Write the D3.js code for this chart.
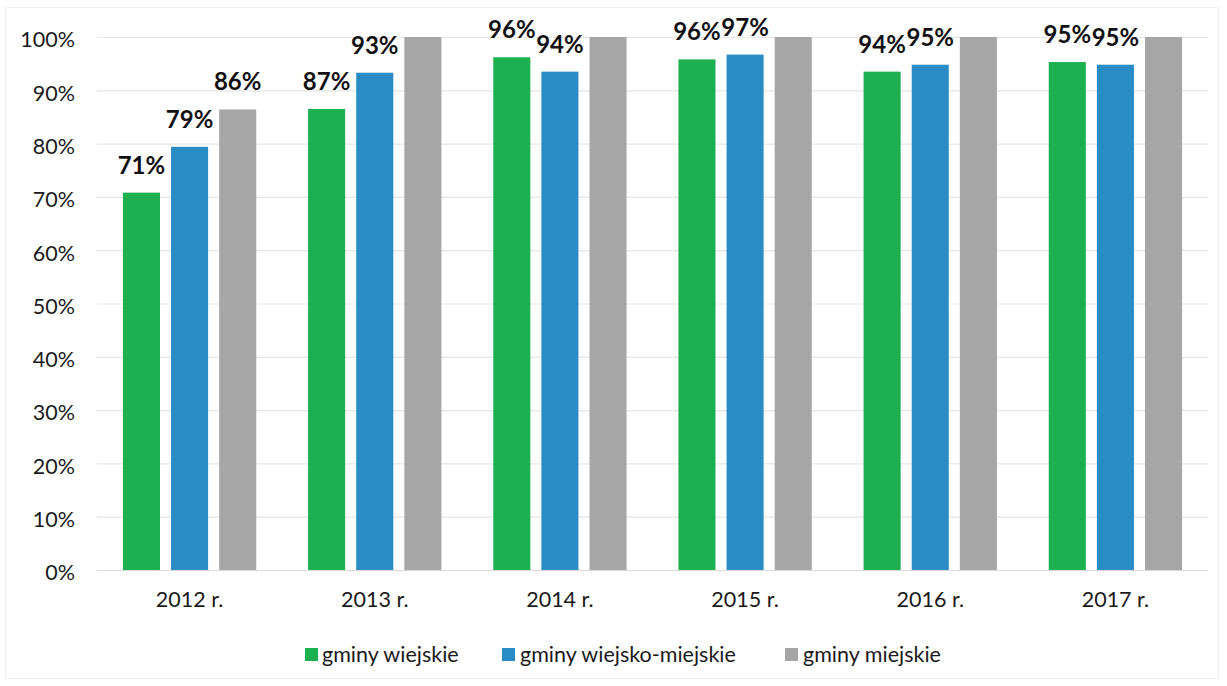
<!DOCTYPE html>
<html>
<head>
<meta charset="utf-8">
<script src="https://cdn.jsdelivr.net/npm/d3@7"></script>
<style>
  html, body { margin: 0; padding: 0; background: #fff; }
  svg { display: block; font-family: Lato, "Open Sans", sans-serif; }
</style>
</head>
<body>
<svg id="chart" width="1227" height="686"></svg>
<script>
const years = ["2012 r.", "2013 r.", "2014 r.", "2015 r.", "2016 r.", "2017 r."];
const seriesNames = ["gminy wiejskie", "gminy wiejsko-miejskie", "gminy miejskie"];
const seriesColors = ["#1cb050", "#2a8cc4", "#a6a6a6"];
const wiejskie = [70.8, 86.5, 96.2, 95.8, 93.5, 95.3];
const wiejskoMiejskie = [79.4, 93.3, 93.5, 96.7, 94.8, 94.8];
const miejskie = [86.4, 100, 100, 100, 100, 100];
const labelsWiejskie = ["71%", "87%", "96%", "96%", "94%", "95%"];
const labelsWiejskoMiejskie = ["79%", "93%", "94%", "97%", "95%", "95%"];
const labelsMiejskie = ["86%", null, null, null, null, null];
const yTicks = [0, 10, 20, 30, 40, 50, 60, 70, 80, 90, 100];

const seriesValues = [wiejskie, wiejskoMiejskie, miejskie];
const seriesLabels = [labelsWiejskie, labelsWiejskoMiejskie, labelsMiejskie];

(function () {
const svg = d3.select("#chart");
const mLeft = 97, mRight = 1208, mTop = 37, mBottom = 570;
const fontMain = 21.5;

// faint frame
svg.append("rect").attr("x", 5.5).attr("y", 7.5).attr("width", 1213).attr("height", 671)
  .attr("fill", "none").attr("stroke", "#f0f0f0").attr("stroke-width", 1);

const y = d3.scaleLinear().domain([0, 100]).range([mBottom, mTop]);
const x0 = d3.scaleBand().domain(years).range([mLeft, mRight]).paddingInner(0.28).paddingOuter(0.14);
const x1 = d3.scaleBand().domain(d3.range(3)).range([0, x0.bandwidth()]).paddingInner(0.23);

// gridlines
svg.append("g").selectAll("line").data(yTicks).join("line")
  .attr("x1", mLeft).attr("x2", mRight)
  .attr("y1", d => y(d) + 0.5).attr("y2", d => y(d) + 0.5)
  .attr("stroke", d => d === 0 ? "#d9d9d9" : "#e6e6e6").attr("stroke-width", 1.2);

// y axis labels
const yAxis = d3.axisLeft(y).tickValues(yTicks).tickFormat(d => d + "%").tickSize(0).tickPadding(0);
const yg = svg.append("g").attr("transform", `translate(75,0)`).call(yAxis);
yg.select(".domain").remove();
yg.selectAll("text").attr("font-size", fontMain).attr("fill", "#1a1a1a")
  .attr("font-family", "Lato, 'Open Sans', sans-serif").attr("dy", "0.46em");

// x axis labels
const xAxis = d3.axisBottom(x0).tickSize(0).tickPadding(0);
const xg = svg.append("g").attr("transform", `translate(0,${mBottom})`).call(xAxis);
xg.select(".domain").remove();
xg.selectAll("text").attr("font-size", fontMain).attr("fill", "#1a1a1a")
  .attr("font-family", "Lato, 'Open Sans', sans-serif").attr("y", 37).attr("dy", 0);

// bars
const groups = svg.append("g").selectAll("g").data(years).join("g")
  .attr("transform", d => `translate(${x0(d)},0)`);

groups.each(function(year, i) {
  const g = d3.select(this);
  for (let s = 0; s < 3; s++) {
    const v = seriesValues[s][i];
    g.append("rect")
      .attr("x", x1(s)).attr("width", x1.bandwidth())
      .attr("y", y(v)).attr("height", y(0) - y(v))
      .attr("fill", seriesColors[s]);
    const lab = seriesLabels[s][i];
    if (lab) {
      g.append("text")
        .attr("x", x1(s) + x1.bandwidth() / 2)
        .attr("y", y(v) - 19)
        .attr("text-anchor", "middle")
        .attr("font-size", 24).attr("font-weight", "bold").attr("fill", "#111")
        .text(lab);
    }
  }
});

// legend
const legendItems = [
  { sx: 305, tx: 322 },
  { sx: 502, tx: 520 },
  { sx: 785, tx: 803 }
];
const lg = svg.append("g");
seriesNames.forEach((name, s) => {
  lg.append("rect").attr("x", legendItems[s].sx).attr("y", 648).attr("width", 13).attr("height", 13)
    .attr("fill", seriesColors[s]);
  lg.append("text").attr("x", legendItems[s].tx).attr("y", 662)
    .attr("font-size", fontMain).attr("fill", "#1a1a1a").text(name);
});
})();
</script>
</body>
</html>
